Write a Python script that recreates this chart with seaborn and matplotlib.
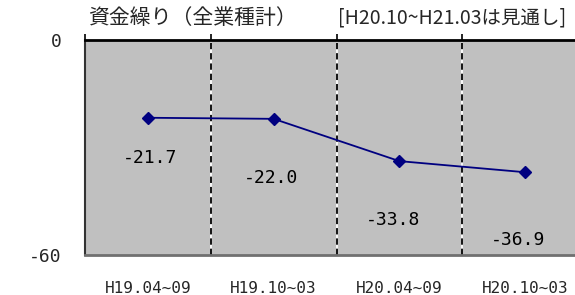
import matplotlib
matplotlib.use('Agg')
import matplotlib.pyplot as plt
import seaborn as sns
import pandas as pd

# ---- data ----
categories = ["H19.04~09", "H19.10~03", "H20.04~09", "H20.10~03"]
values = [-21.7, -22.0, -33.8, -36.9]
value_labels = ["-21.7", "-22.0", "-33.8", "-36.9"]
y_ticks = [0, -60]
y_tick_labels = ["0", "-60"]
title_main = "資金繰り（全業種計）"
title_note = "[H20.10~H21.03は見通し]"

# label placement offsets (points), style only
label_offsets = [(1.5, -29), (-2, -42.5), (-4.5, -42.5), (-5, -49)]

sns.set_theme(style="white")
plt.rcParams['font.family'] = ['DejaVu Sans Mono', 'Noto Sans CJK JP']

fig = plt.figure(figsize=(5.75, 2.95), dpi=100)
ax = fig.add_axes([85/575, 1-255/295, 503/575, 215/295])
ax.set_facecolor('#C0C0C0')

df = pd.DataFrame({'cat': categories, 'val': values})
sns.pointplot(data=df, x='cat', y='val', color='#000080', markers='D',
              linestyles='-', ax=ax, markersize=6, linewidth=1.3, zorder=3)

n = len(categories)
ax.set_xlim(-0.5, n - 0.5)
ax.set_ylim(min(y_ticks), max(y_ticks))

# dashed dividers
for b in [i + 0.5 for i in range(n - 1)]:
    ax.axvline(b, color='white', lw=1.3, zorder=1)
    ax.axvline(b, color='black', lw=1.3, ls=(0, (3.5, 2.2)), zorder=1.5)

# labels
for i, (v, t, off) in enumerate(zip(values, value_labels, label_offsets)):
    ax.annotate(t, (i, v), xytext=off, textcoords='offset points',
                ha='center', va='center', fontsize=13, color='black')

ax.set_xticks(range(n))
ax.set_xticklabels(categories, fontsize=11.5)
ax.set_yticks(y_ticks)
ax.set_yticklabels(y_tick_labels, fontsize=13)
ax.tick_params(axis='x', length=0, pad=19)
ax.tick_params(axis='y', length=0, pad=17)
ax.set_xlabel('')
ax.set_ylabel('')

# top tick marks at dividers
ax.set_xticks([-0.5] + [i + 0.5 for i in range(n - 1)], minor=True)
ax.tick_params(axis='x', which='minor', top=True, bottom=False,
               direction='inout', length=9, width=1.2, color='black')

for s in ['top', 'left', 'bottom', 'right']:
    ax.spines[s].set_visible(True)
ax.spines['top'].set_color('black')
ax.spines['top'].set_linewidth(2)
ax.spines['left'].set_color('#333333')
ax.spines['left'].set_linewidth(1.5)
ax.spines['bottom'].set_color('#707070')
ax.spines['bottom'].set_linewidth(2)
ax.spines['right'].set_visible(False)

fig.text(88/575, 1-18/295, title_main, fontsize=15, va='center', ha='left',
         family=['Noto Sans CJK JP'])
fig.text(338/575, 1-18/295, title_note, fontsize=14, va='center', ha='left',
         family=['Noto Sans CJK JP'])

fig.savefig('out.png', dpi=100)
